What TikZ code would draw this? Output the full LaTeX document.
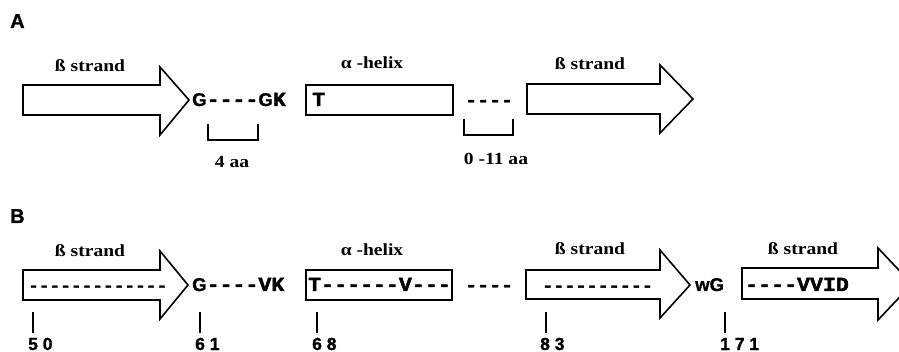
\documentclass[tikz,border=0pt]{standalone}
\usepackage{fontspec}
\newfontfamily\labfont[FakeStretch=1.15]{Liberation Serif}
\newfontfamily\seqfont[FakeStretch=1.08,FakeBold=2]{Liberation Mono}
\newfontfamily\sansb[FakeBold=1.2]{Liberation Sans}
\newcommand\sg{{\sansb\bfseries\fontsize{18.5}{20}\selectfont G}}
\begin{document}
\begin{tikzpicture}[x=1pt,y=-1pt,
  outl/.style={draw=black,line width=1.6pt,line join=miter},
  tick/.style={draw=black,line width=1.6pt},
  lab/.style={inner sep=0pt,anchor=base,font=\labfont\bfseries\fontsize{17}{20}\selectfont},
  seqt/.style={inner sep=0pt,anchor=base west,font=\seqfont\bfseries\fontsize{20}{22}\selectfont},
  numt/.style={inner sep=0pt,anchor=base west,font=\sansb\bfseries\fontsize{17.5}{20}\selectfont},
  panel/.style={inner sep=0pt,anchor=base west,font=\sansb\bfseries\fontsize{20}{22}\selectfont}]
\useasboundingbox (0,0) rectangle (899,352);
\clip (0,0) rectangle (899,352);
% ---------- Panel A ----------
\node[panel] (pA) at (10,28) {A};
\draw[outl] (23,85) -- (160,85) -- (160,67) -- (189,100) -- (160,135) -- (160,115) -- (23,115) -- cycle;
\draw[outl] (306,85) rectangle (453,115);
\draw[outl] (527,84) -- (660,84) -- (660,65) -- (693,99) -- (660,133) -- (660,114) -- (527,114) -- cycle;
\node[lab] (a1) at (90,72) {ß strand};
\node[lab] (a2) at (372,69) {α -helix};
\node[lab] (a3) at (590,70) {ß strand};
\node[seqt] (s1) at (192,106) {\sg----\sg K};
\node[seqt] (s2) at (312,106) {T};
\node[seqt,font=\seqfont\bfseries\fontsize{18.5}{20}\selectfont] (s3) at (465,106) {----};
\draw[tick] (208,124) -- (208,140) -- (258,140) -- (258,124);
\draw[tick] (464,119) -- (464,135) -- (513,135) -- (513,119);
\node[lab] (b1) at (232,168) {4 aa};
\node[lab] (b2) at (496,165) {0 -11 aa};
% ---------- Panel B ----------
\node[panel] (pB) at (10,223) {B};
\draw[outl] (23,270) -- (160,270) -- (160,251) -- (188,285) -- (160,319) -- (160,300) -- (23,300) -- cycle;
\draw[outl] (306,270) rectangle (452,300);
\draw[outl] (526,270) -- (660,270) -- (660,250) -- (690,285) -- (660,318) -- (660,299) -- (526,299) -- cycle;
\draw[outl] (742,268) -- (878,268) -- (878,248) -- (912,284) -- (878,320) -- (878,299) -- (742,299) -- cycle;
\node[lab] (c1) at (90,257) {ß strand};
\node[lab] (c2) at (372,256) {α -helix};
\node[lab] (c3) at (590,255) {ß strand};
\node[lab] (c4) at (803,255) {ß strand};
\node[seqt,font=\seqfont\bfseries\fontsize{16.5}{18}\selectfont] (t1) at (28,291) {-------------};
\node[seqt] (t2) at (192,291) {\sg----VK};
\node[seqt] (t3) at (308,291) {T------V---};
\node[seqt,font=\seqfont\bfseries\fontsize{18.5}{20}\selectfont] (t4) at (465,291) {----};
\node[seqt,font=\seqfont\bfseries\fontsize{17.1}{18}\selectfont] (t5) at (542,291) {----------};
\node[seqt,font=\sansb\bfseries\fontsize{18.5}{20}\selectfont] (t6) at (695,291) {wG};
\node[seqt] (t7) at (745,291) {----VVID};
\draw[tick] (33,312) -- (33,333);
\draw[tick] (200,312) -- (200,333);
\draw[tick] (317,312) -- (317,333);
\draw[tick] (546,312) -- (546,333);
\draw[tick] (725,312) -- (725,333);
\node[numt] (n1) at (28,350) {5 0};
\node[numt] (n2) at (195,350) {6 1};
\node[numt] (n3) at (312,350) {6 8};
\node[numt] (n4) at (540,350) {8 3};
\node[numt] (n5) at (720,350) {1 7 1};
\end{tikzpicture}
\end{document}
